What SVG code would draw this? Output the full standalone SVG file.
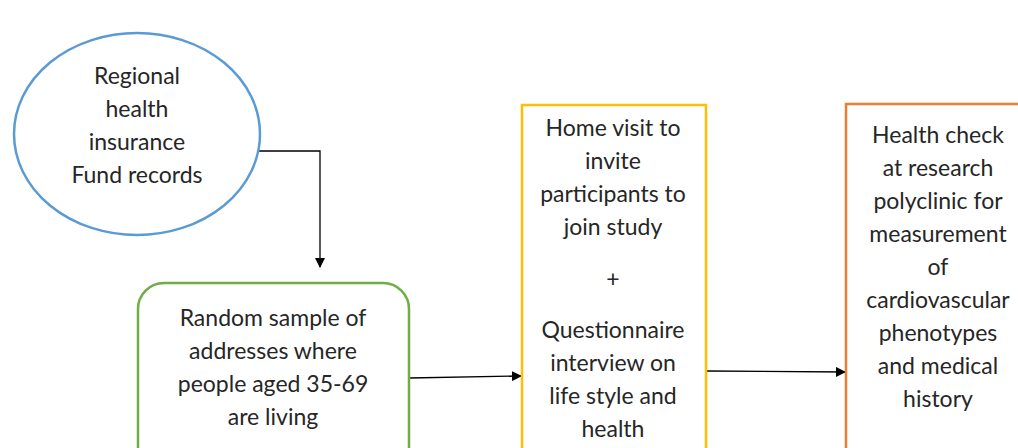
<svg xmlns="http://www.w3.org/2000/svg" width="1018" height="448" viewBox="0 0 1018 448">
<defs>
<marker id="ah" markerWidth="10" markerHeight="10" refX="9" refY="5" orient="auto" markerUnits="userSpaceOnUse">
<path d="M0,0 L10,5 L0,10 Z" fill="#000"/>
</marker>
<style>
text{font-family:Lato,"Open Sans","Liberation Sans",sans-serif;font-size:23px;fill:#262626;text-anchor:middle}
.n{fill:#fff;stroke-width:2.5}
.c{fill:none;stroke:#000;stroke-width:1.3}
</style>
</defs>
<rect width="1018" height="448" fill="#fff"/>
<g id="connectors">
<path class="c" d="M259,151 H320 V267" marker-end="url(#ah)"/>
<path class="c" d="M409,378 L521,376" marker-end="url(#ah)"/>
<path class="c" d="M707,371 L845,372" marker-end="url(#ah)"/>
</g>
<g id="n1">
<ellipse class="n" cx="137" cy="134" rx="123" ry="101" stroke="#5B9BD5"/>
<text x="137" y="84">Regional</text>
<text x="137" y="117">health</text>
<text x="137" y="150">insurance</text>
<text x="137" y="183">Fund records</text>
</g>
<g id="n2">
<rect class="n" x="138" y="283" width="271" height="190" rx="26" stroke="#70AD47"/>
<text x="273" y="326">Random sample of</text>
<text x="273" y="359">addresses where</text>
<text x="273" y="392">people aged 35-69</text>
<text x="273" y="425">are living</text>
</g>
<g id="n3">
<rect class="n" x="522" y="105" width="184" height="360" stroke="#FFC000"/>
<text x="613" y="136">Home visit to</text>
<text x="613" y="169">invite</text>
<text x="613" y="202">participants to</text>
<text x="613" y="235">join study</text>
<text x="613" y="287">+</text>
<text x="613" y="338">Questionnaire</text>
<text x="613" y="371">interview on</text>
<text x="613" y="404">life style and</text>
<text x="613" y="437">health</text>
</g>
<g id="n4">
<rect class="n" x="846" y="104" width="190" height="360" stroke="#ED7D31"/>
<text x="938" y="143">Health check</text>
<text x="938" y="176">at research</text>
<text x="938" y="209">polyclinic for</text>
<text x="938" y="242">measurement</text>
<text x="938" y="275">of</text>
<text x="938" y="308">cardiovascular</text>
<text x="938" y="341">phenotypes</text>
<text x="938" y="374">and medical</text>
<text x="938" y="407">history</text>
</g>
</svg>
